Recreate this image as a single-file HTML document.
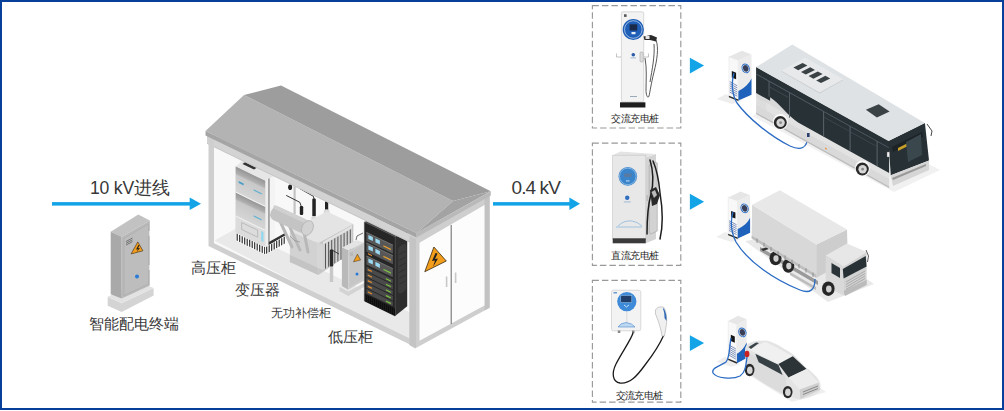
<!DOCTYPE html>
<html><head><meta charset="utf-8">
<style>
html,body{margin:0;padding:0;background:#fff;}
body{width:1004px;height:411px;position:relative;overflow:hidden;font-family:"Liberation Sans",sans-serif;}
#frame{position:absolute;left:0;top:0;width:1000px;height:406px;border:2px solid #06409a;}
svg{position:absolute;left:0;top:0;}
.t{position:absolute;color:#383838;font-weight:300;white-space:nowrap;line-height:1;}
</style></head><body>
<div id="frame"></div>
<svg width="1004" height="411" viewBox="0 0 1004 411">
  <defs>
    <linearGradient id="gmod" x1="0" y1="0" x2="0" y2="1">
      <stop offset="0" stop-color="#959595"/><stop offset="0.25" stop-color="#b0b0b0"/><stop offset="0.32" stop-color="#c8c8c8"/><stop offset="1" stop-color="#d6d6d6"/>
    </linearGradient>
  </defs>
  <!-- arrows -->
  <rect x="52" y="202.1" width="138" height="3.5" fill="#12a4e6"/>
  <polygon points="189.7,197.6 201,203.8 189.7,210.1" fill="#12a4e6"/>
  <rect x="493" y="202.1" width="77" height="3.5" fill="#12a4e6"/>
  <polygon points="569.4,197.6 580,203.8 569.4,210.1" fill="#12a4e6"/>
  <!-- charger arrows -->
  <polygon points="689.9,57.7 704.1,65.5 689.9,73.5" fill="#12a4e6"/>
  <polygon points="689.9,193.8 704.1,201.8 689.9,209.8" fill="#12a4e6"/>
  <polygon points="689.9,335.2 704.1,343.1 689.9,350.9" fill="#12a4e6"/>

  <!-- dashed boxes -->
  <g fill="none" stroke="#999999" stroke-width="1.15" stroke-dasharray="6.5,3">
    <rect x="592.4" y="5.6" width="88.4" height="122.4"/>
    <rect x="592.4" y="143.1" width="88.4" height="122.2"/>
    <rect x="592.4" y="280.3" width="88.4" height="121.9"/>
  </g>

  <!-- ===== smart terminal ===== -->
  <polygon points="107.7,296.8 121.7,303.2 153.6,287.9 153.6,295.5 121.7,312.1 107.7,305.7" fill="#d4d4d4"/>
  <polygon points="107.7,296.8 139,282 153.6,287.9 121.7,303.2" fill="#e2e2e2"/>
  <polygon points="110.7,231.7 138.3,214.6 149.8,220.5 121.7,236.8" fill="#c2c2c2"/>
  <polygon points="110.7,231.7 121.7,236.8 121.7,298.5 110.7,294.2" fill="#a9a9a9"/>
  <polygon points="121.7,236.8 149.8,220.5 149.8,285.5 121.7,298.5" fill="#b9b9b9"/>
  <polygon points="124,238.5 148.5,224 148.5,284 124,295.5" fill="#bdbdbd" stroke="#a6a6a6" stroke-width="0.5"/>
  <rect x="148.8" y="231" width="1.3" height="5" fill="#e8e8e8"/>
  <rect x="148.8" y="265" width="1.3" height="5" fill="#e8e8e8"/>
  <g stroke="#555" stroke-width="0.7">
    <line x1="126" y1="241.5" x2="132.5" y2="238"/><line x1="126" y1="243.3" x2="132.5" y2="239.8"/>
    <line x1="126" y1="245.1" x2="132.5" y2="241.6"/>
  </g>
  <polygon points="137.8,241.9 142.9,250.8 131.1,253.9" fill="#f29d1c" stroke="#3a2a10" stroke-width="0.6" stroke-linejoin="round"/>
  <polygon points="138.4,245 136,249.5 138,249.3 136.6,252.3 140,248 138,248.2 139.5,245.2" fill="#222"/>
  <circle cx="137" cy="276.4" r="2" fill="#2a7ad8"/>
<!-- ===== substation box ===== -->
  <!-- interior back wall -->
  <polygon points="213,133 416,236 416,345 213,243" fill="#f8f8f8"/>
  <!-- floor -->
  <polygon points="214.6,240.6 236,228.5 430,322 416,345" fill="#e9e9e9"/>
  <!-- ceiling band under roof -->
  <polygon points="213,133 416,236 416,241 213,138" fill="#dedede"/>

  <!-- HV cabinet -->
  <polygon points="268.2,178 269.6,177.3 269.6,244.5 268.2,245.5" fill="#333"/><polygon points="269.6,177.3 275,174.5 275,241 269.6,244.5" fill="#f4f4f4"/>
  <polygon points="267,243 285,233 286,235 268,246" fill="#333"/>
  <polygon points="235.7,166.6 242.4,160.7 274.6,175.4 265.2,180.8" fill="#e6e6e6"/>
  <polygon points="246,161.5 258,167 254,169.5 242.5,164" fill="#333"/>
  <polygon points="265.2,180.8 268.5,179 268.5,253 265.2,255" fill="#eeeeee"/>
  <polygon points="235.7,166.6 265.2,180.8 265.2,255 235.7,240" fill="#d3d3d3"/>
  <g transform="matrix(1,0.482,0,1,235.7,166.6)">
    <rect x="0" y="0" width="29.5" height="26" fill="url(#gmod)"/>
    <rect x="0" y="26" width="29.5" height="24" fill="url(#gmod)"/>
    <rect x="0" y="50" width="29.5" height="16" fill="#dcdcdc"/>
    <line x1="0" y1="25.5" x2="29.5" y2="25.5" stroke="#f4f4f4" stroke-width="1"/>
    <line x1="0" y1="49.5" x2="29.5" y2="49.5" stroke="#f4f4f4" stroke-width="1"/>
    <rect x="3" y="13" width="5" height="2" fill="#4aa0c8"/>
    <rect x="18" y="14" width="8" height="1.3" fill="#5ab0d0"/>
    <rect x="18" y="40" width="8" height="1.3" fill="#5ab0d0"/>
    <rect x="25.5" y="52" width="2.2" height="10" fill="#8fd8f0"/>
    <rect x="6" y="53" width="16" height="7" fill="none" stroke="#aaa" stroke-width="0.6"/>
    <rect x="0" y="66" width="29.5" height="8" fill="#fff"/>
    <g stroke="#1e1e1e" stroke-width="1.1">
      <line x1="1.5" y1="66.5" x2="1.5" y2="73.5"/><line x1="4" y1="66.5" x2="4" y2="73.5"/><line x1="6.5" y1="66.5" x2="6.5" y2="73.5"/>
      <line x1="9" y1="66.5" x2="9" y2="73.5"/><line x1="11.5" y1="66.5" x2="11.5" y2="73.5"/><line x1="14" y1="66.5" x2="14" y2="73.5"/>
      <line x1="16.5" y1="66.5" x2="16.5" y2="73.5"/><line x1="19" y1="66.5" x2="19" y2="73.5"/><line x1="21.5" y1="66.5" x2="21.5" y2="73.5"/>
      <line x1="24" y1="66.5" x2="24" y2="73.5"/><line x1="26.5" y1="66.5" x2="26.5" y2="73.5"/><line x1="29" y1="66.5" x2="29" y2="73.5"/>
    </g>
  </g>
  <g transform="matrix(1,-0.56,0,1,265.2,255)">
    <rect x="0" y="-8" width="21" height="8" fill="#fff"/>
    <g stroke="#1e1e1e" stroke-width="1.1">
      <line x1="1.5" y1="-7.5" x2="1.5" y2="-0.5"/><line x1="4" y1="-7.5" x2="4" y2="-0.5"/><line x1="6.5" y1="-7.5" x2="6.5" y2="-0.5"/>
      <line x1="9" y1="-7.5" x2="9" y2="-0.5"/><line x1="11.5" y1="-7.5" x2="11.5" y2="-0.5"/><line x1="14" y1="-7.5" x2="14" y2="-0.5"/>
      <line x1="16.5" y1="-7.5" x2="16.5" y2="-0.5"/><line x1="19" y1="-7.5" x2="19" y2="-0.5"/>
    </g>
  </g>

  <!-- back pole + wires -->
  <rect x="293.5" y="186" width="2.2" height="28" fill="#c4c4c4"/>
  <g stroke="#222" stroke-width="0.9" fill="none" stroke-linejoin="round">
    <polyline points="286.2,195.4 299.8,202.3 301.5,207"/>
    <polyline points="299.8,188.6 313.4,196.3 314,199"/>
  </g>
  <ellipse cx="290.1" cy="187.3" rx="2" ry="2.8" fill="#222"/>
  <!-- bushings -->
  <rect x="299.8" y="206" width="3.4" height="9" rx="1.2" fill="#222"/>
  <rect x="312.3" y="198.5" width="3.5" height="18" rx="1.2" fill="#222"/>
  <rect x="325" y="201" width="3.2" height="9.5" rx="1.2" fill="#222"/>
  <ellipse cx="314.2" cy="218.5" rx="3" ry="2.5" fill="#d6d6d6"/>
  <ellipse cx="326.6" cy="212" rx="3" ry="2.8" fill="#dadada"/>

  <!-- transformer tank -->
  <polygon points="289.9,231 327,211.5 353.4,224.1 318.4,243" fill="#e4e4e4"/>
  <polygon points="289.9,231 318.4,243 318.4,275 289.9,262" fill="#d2d2d2"/>
  <polygon points="289.9,255 318.4,268 318.4,275 289.9,262" fill="#c4c4c4"/>
  <polygon points="318.4,243 353.4,224.1 353.4,251 318.4,275" fill="#c6c6c6"/>
  <polygon points="317,242 323,244.8 323,270 317,267.5" fill="#d6d6d6"/>
  <g transform="matrix(1,-0.57,0,1,323,242)">
    <rect x="0" y="0" width="29" height="28" fill="#d2d2d2"/>
    <g stroke="#555" stroke-width="1"><line x1="2.5" y1="3" x2="2.5" y2="28"/><line x1="5.6" y1="3" x2="5.6" y2="28"/><line x1="8.7" y1="3" x2="8.7" y2="28"/><line x1="11.8" y1="3" x2="11.8" y2="28"/><line x1="14.9" y1="3" x2="14.9" y2="28"/><line x1="18.0" y1="3" x2="18.0" y2="28"/><line x1="21.1" y1="3" x2="21.1" y2="28"/><line x1="24.2" y1="3" x2="24.2" y2="28"/><line x1="27.3" y1="3" x2="27.3" y2="28"/></g>
    <rect x="0" y="0" width="29" height="2.5" fill="#e2e2e2"/>
  </g>
  <!-- struts -->
  <g stroke="#b8b8b8" stroke-width="3" stroke-linecap="round">
    <line x1="279" y1="219" x2="292" y2="247"/>
    <line x1="288" y1="223" x2="300" y2="250"/>
    <line x1="304" y1="232" x2="308" y2="252"/>
  </g>
  <!-- conservator cylinder -->
  <g transform="translate(273,212) rotate(25)">
    <rect x="-2" y="-7.2" width="40" height="14.4" rx="6" fill="#c4c4c4"/>
    <rect x="-2" y="-7.2" width="40" height="4" rx="2" fill="#d0d0d0"/>
    <ellipse cx="38" cy="0" rx="5.5" ry="7.8" fill="#d2d2d2" stroke="#b0b0b0" stroke-width="0.7"/>
  </g>
  <g stroke="#888" stroke-width="0.6" fill="none">
    <path d="M290,236 q4,6 10,6"/>
  </g>
  <!-- pole in front of radiator -->
  <rect x="329.8" y="262" width="3.4" height="20" fill="#c8c8c8"/>
  <rect x="329.8" y="249.5" width="3.4" height="17" rx="1" fill="#2a2a2a"/>
  <polyline points="332,250 339,254" stroke="#222" stroke-width="0.8" fill="none"/>

  <!-- capacitor cabinet -->
  <polygon points="339.5,287 348.2,291.5 365,282.5 365,286.5 348.2,296 339.5,291" fill="#d3d3d3"/>
  <polygon points="341.9,247.8 356.5,240 363.8,242.5 348.2,250.5" fill="#e4e4e4"/>
  <polygon points="341.9,247.8 348.2,250.5 348.2,289.8 341.9,286.1" fill="#b9b9b9"/>
  <polygon points="348.2,250.5 363.8,242.5 363.8,280.7 348.2,289.8" fill="#cdcdcd"/><polygon points="349.5,252 362.5,245 362.5,279.5 349.5,287" fill="#c6c6c6"/>
  <polygon points="357.4,254.2 360.6,260 353.5,261.8" fill="#f29d1c" stroke="#3a2a10" stroke-width="0.5" stroke-linejoin="round"/>
  <rect x="350" y="252.5" width="3" height="3.5" fill="#b8b8b8"/>
  <circle cx="357" cy="273.9" r="1.5" fill="#2a7ad8"/>
  <polyline points="356,240 357,236 363,233" stroke="#333" stroke-width="0.7" fill="none"/>

  <!-- LV cabinet -->
  <polygon points="364.4,222 375.1,216.7 407.2,230 395.1,236.7" fill="#4e4e4e"/>
  <polygon points="395.1,236.7 407.2,230 407.2,306.2 395.1,316" fill="#2e2e2e"/>
  <g transform="matrix(1,-0.55,0,1,395.1,236.7)">
    <rect x="3" y="12" width="8.5" height="48" rx="4" fill="#3b3b3b"/>
    <g stroke="#2a2a2a" stroke-width="0.6"><line x1="4" y1="20" x2="10.5" y2="20"/><line x1="4" y1="26" x2="10.5" y2="26"/><line x1="4" y1="32" x2="10.5" y2="32"/><line x1="4" y1="38" x2="10.5" y2="38"/><line x1="4" y1="44" x2="10.5" y2="44"/><line x1="4" y1="50" x2="10.5" y2="50"/></g>
  </g>
  <polygon points="364.4,222 395.1,236.7 395.1,316 364.4,301" fill="#262626" stroke="#4a4a4a" stroke-width="0.6"/>
  <g transform="matrix(1,0.482,0,1,364.4,222)">
    <rect x="2" y="9" width="26.5" height="9" fill="#575757"/><rect x="2" y="9" width="26.5" height="1" fill="#6e6e6e"/><rect x="4" y="11" width="4.5" height="4" fill="#9ad8f2"/><rect x="11" y="11" width="4.5" height="4" fill="#9ad8f2"/><rect x="19" y="14" width="7.5" height="1.4" fill="#e8a030"/><rect x="2" y="19.5" width="26.5" height="9" fill="#575757"/><rect x="2" y="19.5" width="26.5" height="1" fill="#6e6e6e"/><rect x="4" y="21.5" width="4.5" height="4" fill="#9ad8f2"/><rect x="11" y="21.5" width="4.5" height="4" fill="#9ad8f2"/><rect x="19" y="24.5" width="7.5" height="1.4" fill="#e8a030"/><rect x="2" y="32.5" width="26.5" height="9" fill="#575757"/><rect x="2" y="32.5" width="26.5" height="1" fill="#6e6e6e"/><rect x="4" y="34.5" width="4.5" height="4" fill="#9ad8f2"/><rect x="11" y="34.5" width="4.5" height="4" fill="#9ad8f2"/><rect x="19" y="37.5" width="7.5" height="1.4" fill="#7cc040"/><rect x="3.5" y="29.3" width="4" height="1.3" fill="#e89030"/><rect x="2" y="43.5" width="26.5" height="4.6" fill="#4a4a4a"/><rect x="3.5" y="45.2" width="4" height="1.3" fill="#e89030"/><rect x="21.5" y="45.7" width="5" height="1.3" fill="#7cc040"/><rect x="2" y="49.1" width="26.5" height="4.6" fill="#4a4a4a"/><rect x="3.5" y="50.800000000000004" width="4" height="1.3" fill="#e89030"/><rect x="21.5" y="51.300000000000004" width="5" height="1.3" fill="#7cc040"/><rect x="2" y="54.7" width="26.5" height="4.6" fill="#4a4a4a"/><rect x="3.5" y="56.400000000000006" width="4" height="1.3" fill="#e89030"/><rect x="21.5" y="56.900000000000006" width="5" height="1.3" fill="#7cc040"/><rect x="2" y="60.3" width="26.5" height="4.6" fill="#4a4a4a"/><rect x="3.5" y="62.0" width="4" height="1.3" fill="#e89030"/><rect x="21.5" y="62.5" width="5" height="1.3" fill="#7cc040"/><rect x="2" y="65.9" width="26.5" height="4.6" fill="#4a4a4a"/><rect x="3.5" y="67.60000000000001" width="4" height="1.3" fill="#e89030"/><rect x="21.5" y="68.10000000000001" width="5" height="1.3" fill="#7cc040"/>
    <rect x="0.5" y="71.5" width="29.7" height="7.5" fill="#1c1c1c"/>
    <g stroke="#0c0c0c" stroke-width="0.8"><line x1="2" y1="72" x2="2" y2="79"/><line x1="4" y1="72" x2="4" y2="79"/><line x1="6" y1="72" x2="6" y2="79"/><line x1="8" y1="72" x2="8" y2="79"/><line x1="10" y1="72" x2="10" y2="79"/><line x1="12" y1="72" x2="12" y2="79"/><line x1="14" y1="72" x2="14" y2="79"/><line x1="16" y1="72" x2="16" y2="79"/><line x1="18" y1="72" x2="18" y2="79"/><line x1="20" y1="72" x2="20" y2="79"/><line x1="22" y1="72" x2="22" y2="79"/><line x1="24" y1="72" x2="24" y2="79"/><line x1="26" y1="72" x2="26" y2="79"/><line x1="28" y1="72" x2="28" y2="79"/><line x1="30" y1="72" x2="30" y2="79"/></g>
  </g>
  <!-- front frame top rail -->
  <polygon points="207,135.3 416.5,237.3 416.5,245.6 207,143.6" fill="#d3d3d3"/>
  <polygon points="207,142.8 416.5,244.8 416.5,245.8 207,143.8" fill="#c6c6c6"/>
  <!-- front frame: left post + bottom rail -->
  <polygon points="208.5,134 214,136.5 214,243.3 416,341.5 416,347.5 208.5,246" fill="#cfcfcf"/>
  <!-- right end wall -->
  <polygon points="409.5,236 489.6,194 489.6,307.7 415,348.5 409.5,345" fill="#cecece"/><polygon points="409.5,236 416,239 416,348 409.5,345" fill="#c4c4c4"/>
  <polygon points="484.5,198.5 489.6,195.5 489.6,307.7 484.5,310.5" fill="#c2c2c2"/>
  <polygon points="419.5,242.8 484.5,205 484.5,305.6 419.5,340.7" fill="#fcfcfc"/>
  <line x1="451.2" y1="225" x2="451.2" y2="324" stroke="#555" stroke-width="0.9"/>
  <rect x="445.8" y="276.5" width="1.6" height="10.5" fill="#c8c8c8"/>
  <rect x="454.8" y="272.5" width="1.6" height="10.5" fill="#c8c8c8"/>
  <polygon points="433.9,247 446.3,261 424.8,271.7" fill="#f29d1c" stroke="#3a2a10" stroke-width="0.8" stroke-linejoin="round"/>
  <polygon points="435.5,253 432,261 435,260.5 433,267 438,258.5 435,259 437.5,253.5" fill="#222"/>

  <!-- roof -->
  <polygon points="205.5,131 244,95 453,201 416.5,233" fill="#b3b3b3"/>
  <polygon points="244,95 281,85.5 490.8,191.2 453,201" fill="#9d9d9d"/>
  <polygon points="453,201 490.8,191.2 416.5,233" fill="#a3a3a3"/>
  <polygon points="205.5,131 416.5,233 416.5,237.5 205.5,135.5" fill="#a5a5a5"/>
  <polygon points="416.5,233 490.8,191.2 490.8,195.5 416.5,237.5" fill="#b9b9b9"/>
<!-- ===== chargers ===== -->
  <!-- AC charger 1 -->
  <rect x="621.4" y="11.8" width="22.3" height="90" rx="1.5" fill="#f3f3f3" stroke="#cfcfcf" stroke-width="0.8"/>
  <rect x="624" y="14.3" width="2.6" height="2.6" fill="#555"/>
  <circle cx="633.3" cy="29.5" r="10.6" fill="#1f5fb8"/>
  <circle cx="633.3" cy="29.5" r="8.8" fill="none" stroke="#e8f2fa" stroke-width="0.6"/>
  <rect x="629.6" y="24.3" width="7.6" height="6.2" fill="#1b2a48"/>
  <rect x="631.5" y="32" width="4" height="2.2" fill="#e6eef8"/>
  <circle cx="633.3" cy="54.8" r="1.8" fill="#2a5aa8"/>
  <rect x="630.5" y="57.5" width="5.5" height="0.8" fill="#8aa8cc"/>
  <path d="M616.5,53.5 v3.5 h4.5 M648.5,53.5 v3.5 h-4.5" stroke="#aaa" stroke-width="0.7" fill="none"/>
  <rect x="640" y="52" width="3.2" height="10" rx="1" fill="#ddd" stroke="#999" stroke-width="0.5"/>
  <rect x="630" y="96" width="7" height="1" fill="#9ab"/>
  <rect x="620" y="102.3" width="25.4" height="5.2" fill="#1e1e1e"/>
  <g fill="none" stroke="#444" stroke-width="0.9">
    <path d="M656,40 C659,48 657,60 654,72 C651,84 650,92 649,96 C648,99 646,96 646,90 C646,80 647,68 645,58"/>
    <path d="M654,44 C655,56 652,70 650,82"/>
  </g>
  <path d="M643.5,36.5 L651,35 L657,37.5 L656,41.5 L650,40 L644.5,40 Z" fill="#2b2b2b"/>
  <rect x="645.5" y="36" width="4" height="3" fill="#e8e8e8"/>

  <!-- DC charger -->
  <polygon points="612.7,155.2 620.3,151.4 654.8,153.9 645.8,157.5" fill="#e4e4e4"/>
  <polygon points="645.8,157.5 656,153.9 656,239 645.8,243.3" fill="#d4d4d4"/>
  <rect x="612.7" y="155.2" width="33.1" height="84" fill="#e8e8e8" stroke="#c4c4c4" stroke-width="0.6"/>
  <rect x="612.7" y="238.3" width="33.1" height="5" fill="#3a3a3a"/>
  <circle cx="627.8" cy="176.4" r="9.3" fill="#3a84cc"/>
  <circle cx="627.8" cy="176.4" r="8.3" fill="none" stroke="#cfe6f6" stroke-width="0.5"/>
  <rect x="624.2" y="173.4" width="7.2" height="3.6" fill="#5a7aa0"/>
  <rect x="626" y="180.5" width="3.5" height="0.9" fill="#e0eef8"/>
  <circle cx="627.2" cy="197.7" r="2.2" fill="#2f6ec0"/>
  <rect x="623.8" y="201.5" width="7" height="0.9" fill="#9ab4d4"/>
  <path d="M618,226 q6,-6 14,-5 q6,1 10,5 M616,227 h26" stroke="#6fa8d8" stroke-width="0.6" fill="none"/>
  <rect x="646.5" y="195" width="1.5" height="6" fill="#bbb"/>
  <polygon points="649.2,165 655,162 657.3,163 657.3,231 651,234 649.2,233" fill="#d2d2d2" stroke="#999" stroke-width="0.5"/>
  <g fill="none" stroke="#1e1e1e" stroke-width="1.5" stroke-linecap="round">
    <path d="M650,160 C653,170 654,182 651,194 C648,205 647,220 647,234"/>
    <path d="M653,161 C657,170 659,182 660,193 C662,205 664,222 660,239"/>
  </g>
  <path d="M650,190 L656,187 L660,195 L657,204 L652,206 Z" fill="#2a2a2a"/>
  <path d="M651.5,192 L655,190 L657,195 L654,198 Z" fill="#bbb"/>
  <!-- AC wallbox -->
  <rect x="611.5" y="290.2" width="29.3" height="40.6" rx="2" fill="#f3f3f3" stroke="#cdcdcd" stroke-width="0.7"/>
  <rect x="613.5" y="292" width="3.5" height="1.5" fill="#6a9ad0"/>
  <line x1="626.8" y1="311" x2="626.8" y2="323" stroke="#c8c8c8" stroke-width="0.6"/>
  <circle cx="626.8" cy="301.6" r="9.6" fill="#3d8ad8"/>
  <rect x="620.8" y="295.5" width="11" height="7" fill="#1f3f6a" stroke="#9cc8ee" stroke-width="0.5"/>
  <path d="M624,305 l2.5,2 l2.5,-2" stroke="#e8f3fb" stroke-width="0.8" fill="none"/>
  <path d="M618,327 q2,-4 8,-4.5 q6,0.5 9,4.5 z" fill="#bcd8f0" stroke="#4a8ad0" stroke-width="0.6"/>
  <rect x="617.8" y="330.5" width="2.5" height="2.5" fill="#888"/>
  <rect x="632" y="330.5" width="2.5" height="2.5" fill="#888"/>
  <path d="M633.2,332.5 C631,340 622,352 616,364 C611,374 613,382 620,383 C630,384 637,376 645,365 C652,356 659,346 663.8,335" fill="none" stroke="#1a1a1a" stroke-width="1.3"/>
  <path d="M655.5,310 C657,307 661,306 664,307.5 C666.5,312 667.5,320 666,327 L664.5,336 L662,336 C661,328 658,320 655.5,314 Z" fill="#f0f0f0" stroke="#aaa" stroke-width="0.6"/>
  <path d="M663.5,308 C665.5,311 667,316 666.5,321 L664.5,318 C664.5,314 664,311 663,309 Z" fill="#2f68b8"/>

  <!-- ===== bus ===== -->
  <!-- ground shadow -->
  <polygon points="752,116 894,192 940,170 800,96" fill="#f1f1f1"/>
  <!-- charger -->
  <polygon points="716.9,98.9 725.9,93.9 741.4,101.6 731.9,103.9" fill="#eeeeee"/>
  <polygon points="728.9,56.7 742.0,50.8 751.5,54.5 738.4,60.4" fill="#e6e6e6"/>
  <polygon points="728.9,56.7 738.4,60.4 738.4,100.6 728.9,96.9" fill="#f8f8f8" stroke="#dedede" stroke-width="0.4"/>
  <polygon points="738.4,60.4 751.5,54.5 751.5,94.7 738.4,100.6" fill="#ececec"/>
  <path d="M738.4,91.1 C744.9,88.1 749.0,83.6 751.5,78.6 L751.5,94.7 L738.4,100.6 Z" fill="#1f62bb"/>
  <ellipse cx="745.7" cy="68.4" rx="4" ry="5" fill="#2a6cc4" transform="rotate(-24 745.7 68.4)"/>
  <ellipse cx="745.7" cy="68.4" rx="3.1" ry="4" fill="#dce8f6" transform="rotate(-24 745.7 68.4)"/>
  <ellipse cx="745.7" cy="68.4" rx="2.6" ry="3.4" fill="#3a3f58" transform="rotate(-24 745.7 68.4)"/>
  <polygon points="731.8,71.1 736.1,72.8 736.1,79.2 731.8,77.5" fill="#161616"/>
  <line x1="729.7" y1="81.6" x2="737.3" y2="85.8" stroke="#4a64a0" stroke-width="0.7"/>
  <line x1="729.7" y1="83.7" x2="737.3" y2="87.9" stroke="#4a64a0" stroke-width="0.7"/>
  <line x1="729.7" y1="85.8" x2="737.3" y2="90.0" stroke="#4a64a0" stroke-width="0.7"/>
  <line x1="729.7" y1="87.9" x2="737.3" y2="92.1" stroke="#4a64a0" stroke-width="0.7"/>
  <line x1="729.7" y1="90.0" x2="737.3" y2="94.1" stroke="#4a64a0" stroke-width="0.7"/>
  <line x1="729.7" y1="92.1" x2="737.3" y2="96.2" stroke="#4a64a0" stroke-width="0.7"/>
  <polygon points="728.9,95.7 738.4,99.4 738.4,101.0 728.9,97.3" fill="#2a2a2a"/>
  <!-- cable -->
  <path d="M734,73 C731,82 732,95 737,103 C748,118 770,136 790,146 C801,151 807,148 808,137" fill="none" stroke="#2b6cc4" stroke-width="1.3"/>
  <!-- bus side -->
  <g transform="matrix(1,0.555,0,1,756.1,67.1)">
    <rect x="0" y="0" width="133" height="47" fill="#d9d9d9"/>
    <rect x="0" y="30" width="133" height="8" fill="#e2e2e2"/>
    <path d="M0,0 H133 V32 H42 C32,31.5 24,23.5 14,22.5 V26 H0 Z" fill="#283135"/>
    <rect x="0" y="6.5" width="133" height="0.8" fill="#55606a"/>
    <g fill="#59646a">
      <rect x="12.5" y="7" width="0.9" height="15.5"/>
      <rect x="33" y="7" width="0.9" height="25"/>
      <rect x="67" y="7" width="1" height="25"/>
      <rect x="93.5" y="7" width="1" height="25"/>
      <rect x="120.5" y="7" width="1" height="25"/>
    </g>
    <g fill="#3e4a50">
      <rect x="14" y="12" width="18" height="0.8"/>
      <rect x="68" y="12" width="25" height="0.8"/>
      <rect x="95" y="12" width="25" height="0.8"/>
    </g>
    <g stroke="#cfcfcf" stroke-width="0.5"><line x1="1.5" y1="29" x2="10" y2="29"/><line x1="1.5" y1="31" x2="10" y2="31"/><line x1="1.5" y1="33" x2="10" y2="33"/><line x1="1.5" y1="35" x2="10" y2="35"/><line x1="1.5" y1="37" x2="10" y2="37"/></g>
    <rect x="0" y="45.5" width="133" height="1.5" fill="#bdbdbd"/>

    <rect x="69" y="42" width="1.5" height="1.5" fill="#e88a2a"/>
    <rect x="18" y="40" width="1.5" height="1.5" fill="#e88a2a"/>
  </g>
  <!-- wheels -->
  <ellipse cx="780.3" cy="122" rx="7.5" ry="8" fill="#fafafa"/>
  <circle cx="780.3" cy="122.5" r="6.5" fill="#2a2a2a"/>
  <circle cx="780.6" cy="122.7" r="4.2" fill="#d6d6d6"/>
  <circle cx="780.6" cy="122.7" r="1.4" fill="#8a8a8a"/>
  <ellipse cx="862.3" cy="168.5" rx="7.5" ry="8" fill="#fafafa"/>
  <circle cx="862.3" cy="169" r="6.5" fill="#2a2a2a"/>
  <circle cx="862.6" cy="169.2" r="4.2" fill="#d6d6d6"/>
  <circle cx="862.6" cy="169.2" r="1.4" fill="#8a8a8a"/>
  <!-- charging port -->
  <rect x="807" y="133" width="2.6" height="4" fill="#2a3f70"/>
  <!-- bus front -->
  <polygon points="888.4,141.1 924.9,122.9 929,160.6 890.8,175.2" fill="#263035"/>
  <polygon points="892,147 922,132 923,137 893,152" fill="#1c2226"/>
  <polygon points="898,148 912,141 912,144 898,151" fill="#c8a028"/>
  <polygon points="906,142 921,134 922,155 908,162" fill="#3a474d"/>
  <polygon points="890.8,175.2 929,160.6 929,170 893,186" fill="#d6d6d6"/>
  <polygon points="892,178 926,164 926,166 893,180" fill="#999"/>
  <rect x="887" y="152" width="2.5" height="5" fill="#f4f4f4" stroke="#666" stroke-width="0.4"/>
  <path d="M927,124 L932,131 L931,136" stroke="#333" stroke-width="0.9" fill="none"/>
  <!-- roof -->
  <polygon points="756.1,67.1 792.3,44.4 924.9,122.9 888.4,141.1" fill="#dee2e4"/>
  <polygon points="781.3,71.5 805.1,58.2 843.5,80 819.6,93.6" fill="#c9cdd0"/>
  <polygon points="781.3,70.7 805.1,57.4 843.5,79.2 819.6,92.4" fill="#e7e9eb"/>
  <g fill="#3a4246">
    <polygon points="793.4,67.5 802.6,62.9 807.4,65.6 798.2,70.2"/><polygon points="801.0,71.9 810.2,67.3 815.0,70.0 805.8,74.5"/><polygon points="808.6,76.0 817.8,71.5 822.6,74.1 813.4,78.7"/><polygon points="816.2,80.4 825.4,75.8 830.2,78.5 821.0,83.0"/>
    <polygon points="865.9,109.8 878.7,104.2 889.6,111.5 876.9,117.5"/>
  </g>

  <!-- ===== truck ===== -->
  <polygon points="745,241 828,302 874,284 798,232" fill="#e9e9e9"/>
  <!-- charger -->
  <polygon points="716.2,236.9 725.2,231.9 740.7,239.6 731.2,241.9" fill="#eeeeee"/>
  <polygon points="728.2,197.4 740.6,191.4 750.1,195.2 737.7,201.1" fill="#e6e6e6"/>
  <polygon points="728.2,197.4 737.7,201.1 737.7,238.6 728.2,234.9" fill="#f8f8f8" stroke="#dedede" stroke-width="0.4"/>
  <polygon points="737.7,201.1 750.1,195.2 750.1,232.7 737.7,238.6" fill="#ececec"/>
  <path d="M737.7,229.1 C743.9,226.1 747.6,222.7 750.1,217.7 L750.1,232.7 L737.7,238.6 Z" fill="#1f62bb"/>
  <ellipse cx="744.6" cy="208.3" rx="4" ry="5" fill="#2a6cc4" transform="rotate(-24 744.6 208.3)"/>
  <ellipse cx="744.6" cy="208.3" rx="3.1" ry="4" fill="#dce8f6" transform="rotate(-24 744.6 208.3)"/>
  <ellipse cx="744.6" cy="208.3" rx="2.6" ry="3.4" fill="#3a3f58" transform="rotate(-24 744.6 208.3)"/>
  <polygon points="731.1,210.9 735.4,212.6 735.4,218.6 731.1,216.9" fill="#161616"/>
  <line x1="729.0" y1="220.7" x2="736.6" y2="224.8" stroke="#4a64a0" stroke-width="0.7"/>
  <line x1="729.0" y1="222.6" x2="736.6" y2="226.8" stroke="#4a64a0" stroke-width="0.7"/>
  <line x1="729.0" y1="224.6" x2="736.6" y2="228.7" stroke="#4a64a0" stroke-width="0.7"/>
  <line x1="729.0" y1="226.5" x2="736.6" y2="230.7" stroke="#4a64a0" stroke-width="0.7"/>
  <line x1="729.0" y1="228.5" x2="736.6" y2="232.6" stroke="#4a64a0" stroke-width="0.7"/>
  <line x1="729.0" y1="230.4" x2="736.6" y2="234.6" stroke="#4a64a0" stroke-width="0.7"/>
  <polygon points="728.2,233.7 737.7,237.4 737.7,239.0 728.2,235.3" fill="#2a2a2a"/>
  <!-- chassis & wheels -->
  <polygon points="760,247 818,281 818,285 760,251" fill="#9a9a9a"/>
  <polygon points="761,249 767,247 769,249 763,251" fill="#333"/>
  <ellipse cx="775.5" cy="258.3" rx="6" ry="7" fill="#262626"/><ellipse cx="776" cy="258.6" rx="2.6" ry="3.3" fill="#cfcfcf"/>
  <ellipse cx="788.3" cy="265.8" rx="6" ry="7" fill="#262626"/><ellipse cx="788.8" cy="266.1" rx="2.6" ry="3.3" fill="#cfcfcf"/>
  <polygon points="790,272 816,287 816,290 790,275" fill="#bdbdbd"/>
  <!-- cargo box -->
  <polygon points="752.1,204.8 816.4,244.5 816.4,277.7 751.7,238.5" fill="#d8d8d8"/>
  <polygon points="751.7,235.5 816.4,274.7 816.4,277.7 751.7,238.5" fill="#bebebe"/>
  <g stroke="#7a7a7a" stroke-width="0.7">
    <line x1="757" y1="238.5" x2="757" y2="243"/><line x1="764" y1="242.7" x2="764" y2="247.2"/><line x1="771" y1="247" x2="771" y2="251.5"/>
    <line x1="778" y1="251.2" x2="778" y2="255.7"/><line x1="785" y1="255.4" x2="785" y2="259.9"/><line x1="792" y1="259.7" x2="792" y2="264.2"/>
    <line x1="799" y1="264" x2="799" y2="268.5"/><line x1="806" y1="268.2" x2="806" y2="272.7"/><line x1="813" y1="272.5" x2="813" y2="277"/>
  </g>
  <polygon points="816.4,244.5 847,229.6 847.9,260.6 816.4,277.7" fill="#cdcdcd"/>
  <polygon points="752.1,204.8 779.9,190.2 847,229.6 816.4,244.5" fill="#e8e8e8"/>
  <!-- cab -->
  <polygon points="825.7,255.5 847,243.6 866.6,252.1 843.6,266.6" fill="#e7e7e7"/>
  <polygon points="825.7,255.5 843.6,266.6 843.6,295.5 825.7,286.2" fill="#d9d9d9"/>
  <polygon points="831.5,263 840,268 840,278 831.5,273" fill="#2b3438"/>
  <polygon points="843.6,266.6 866.6,252.1 866.6,284.5 843.6,295.5" fill="#d2d2d2"/>
  <polygon points="842.8,269.1 865.7,256 866.6,266.6 843.6,278.5" fill="#283236"/>
  <g stroke="#9a9a9a" stroke-width="0.7"><line x1="846" y1="282" x2="865" y2="271"/><line x1="846" y1="284.5" x2="865" y2="273.5"/><line x1="846" y1="287" x2="865" y2="276"/><line x1="846" y1="289.5" x2="865" y2="278.5"/></g>
  <polygon points="843.6,291 866.6,280 866.6,285 845,296" fill="#bbbbbb"/>
  <ellipse cx="828.3" cy="288.7" rx="6.3" ry="7.2" fill="#262626"/><ellipse cx="828.8" cy="289" rx="2.8" ry="3.4" fill="#cfcfcf"/>
  <path d="M866,250 L868.5,256 L867.5,262" stroke="#333" stroke-width="0.8" fill="none"/>
  <!-- cable -->
  <path d="M733,212 C730,222 731,232 736,242 C748,262 775,280 800,290 C810,294 815,290 815,279" fill="none" stroke="#2b6cc4" stroke-width="1.3"/>

  <!-- ===== car ===== -->
  <polygon points="744,372 792,402 826,392 790,366" fill="#efefef"/>
  <!-- charger -->
  <polygon points="716.2,361.7 725.2,356.7 739.9,364.3 731.2,366.7" fill="#eeeeee"/>
  <polygon points="728.2,321.0 738.0,315.7 746.7,319.3 736.9,324.6" fill="#e6e6e6"/>
  <polygon points="728.2,321.0 736.9,324.6 736.9,363.3 728.2,359.7" fill="#f8f8f8" stroke="#dedede" stroke-width="0.4"/>
  <polygon points="736.9,324.6 746.7,319.3 746.7,358.0 736.9,363.3" fill="#ececec"/>
  <path d="M736.9,353.8 C741.8,350.8 744.2,347.5 746.7,342.5 L746.7,358.0 L736.9,363.3 Z" fill="#1f62bb"/>
  <ellipse cx="742.4" cy="332.4" rx="4" ry="5" fill="#2a6cc4" transform="rotate(-24 742.4 332.4)"/>
  <ellipse cx="742.4" cy="332.4" rx="3.1" ry="4" fill="#dce8f6" transform="rotate(-24 742.4 332.4)"/>
  <ellipse cx="742.4" cy="332.4" rx="2.6" ry="3.4" fill="#3a3f58" transform="rotate(-24 742.4 332.4)"/>
  <polygon points="730.8,334.8 734.8,336.5 734.8,342.7 730.8,341.0" fill="#161616"/>
  <line x1="728.9" y1="345.0" x2="735.9" y2="349.0" stroke="#4a64a0" stroke-width="0.7"/>
  <line x1="728.9" y1="347.0" x2="735.9" y2="351.1" stroke="#4a64a0" stroke-width="0.7"/>
  <line x1="728.9" y1="349.0" x2="735.9" y2="353.1" stroke="#4a64a0" stroke-width="0.7"/>
  <line x1="728.9" y1="351.0" x2="735.9" y2="355.1" stroke="#4a64a0" stroke-width="0.7"/>
  <line x1="728.9" y1="353.0" x2="735.9" y2="357.1" stroke="#4a64a0" stroke-width="0.7"/>
  <line x1="728.9" y1="355.1" x2="735.9" y2="359.1" stroke="#4a64a0" stroke-width="0.7"/>
  <polygon points="728.2,358.5 736.9,362.1 736.9,363.7 728.2,360.1" fill="#2a2a2a"/>
  <!-- car body -->
  <path d="M745,350 C745,345 749,342 756,341 L766,340.5 C772,341 786,349 795,356 L806.5,368 C812,372 819,378 820.5,384 L820.5,390 C818,394 810,398 800,399.5 C795,399 791,397 787,395 C772,388 756,378 746,370 Z" fill="#e4e4e4"/>
  <path d="M745.5,352 L778,366 L786,378 L787,396 C772,389 756,379 746,371 Z" fill="#dcdcdc"/>
  <polygon points="748.5,349.5 765.6,341.8 792.8,356.3 778.4,364" fill="#f0f0f0"/>
  <polygon points="748.5,347 756,342.5 759,343 751,349" fill="#3a4448"/>
  <polygon points="778.4,364 792.8,356.3 806.5,369.1 788.6,377.6" fill="#2c3438"/>
  <polygon points="755.3,353.7 778.4,364.8 782.6,375 758.7,362.3" fill="#353f44"/>
  <polygon points="788.6,377.6 806.5,369.1 818.4,382.7 799.7,389.5" fill="#ececec"/>
  <polygon points="799.7,389.5 818.4,382.7 820.1,389.5 800.5,398.9" fill="#cfcfcf"/>
  <g stroke="#555" stroke-width="0.6"><line x1="803" y1="392" x2="818" y2="386"/><line x1="803" y1="394.5" x2="818" y2="388.5"/></g>
  <ellipse cx="749.6" cy="370" rx="4.8" ry="6.2" fill="#2a2a2a"/><ellipse cx="749.8" cy="370.2" rx="2.8" ry="3.8" fill="#d6d6d6"/>
  <ellipse cx="787.7" cy="392.1" rx="4.8" ry="6.2" fill="#2a2a2a"/><ellipse cx="787.9" cy="392.3" rx="2.8" ry="3.8" fill="#d6d6d6"/>
  <ellipse cx="747" cy="354" rx="2.4" ry="3.2" fill="#cc2222"/>
  <!-- cable -->
  <path d="M731,338 C729,348 730,357 726,362 C720,366 711,368 713,373 C716,378 732,380 740,376 C746,372 746,364 747,357" fill="none" stroke="#2b6cc4" stroke-width="1.3"/>
</svg>

<div class="t" style="left:90px;top:179.5px;font-size:17.6px;letter-spacing:-0.2px;">10 kV进线</div>
<div class="t" style="left:511.5px;top:177.5px;font-size:19px;letter-spacing:-0.9px;">0.4 kV</div>
<div class="t" style="left:190.5px;top:260.5px;font-size:14.8px;">高压柜</div>
<div class="t" style="left:234.5px;top:282.5px;font-size:14.8px;">变压器</div>
<div class="t" style="left:270.5px;top:308px;font-size:11.8px;">无功补偿柜</div>
<div class="t" style="left:327.5px;top:329.5px;font-size:14.8px;">低压柜</div>
<div class="t" style="left:88.5px;top:317px;font-size:14.8px;">智能配电终端</div>
<div class="t" style="left:611.3px;top:114px;font-size:9.6px;font-weight:400;letter-spacing:-0.55px;color:#1e1e1e;">交流充电桩</div>
<div class="t" style="left:611.3px;top:251px;font-size:9.6px;font-weight:400;letter-spacing:-0.55px;color:#1e1e1e;">直流充电桩</div>
<div class="t" style="left:615.6px;top:391px;font-size:9.6px;font-weight:400;letter-spacing:-0.55px;color:#1e1e1e;">交流充电桩</div>
</body></html>
